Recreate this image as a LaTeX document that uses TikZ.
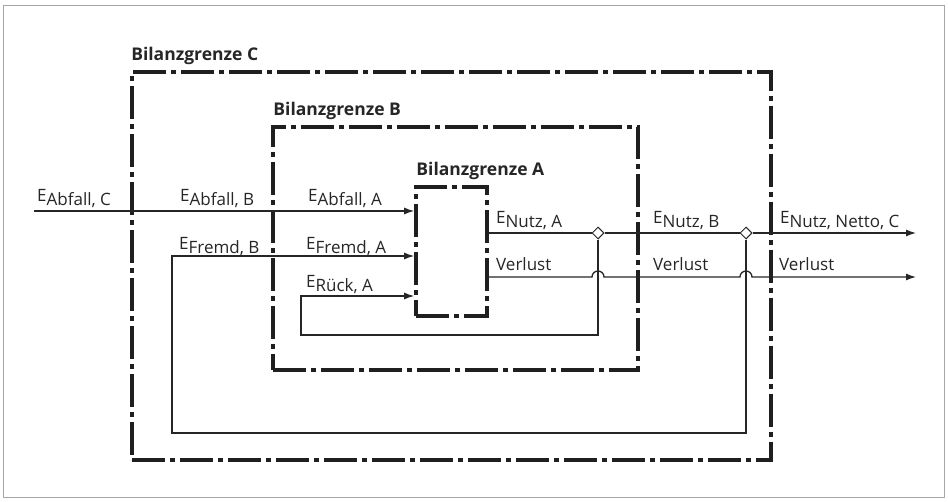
\documentclass[tikz,border=0pt]{standalone}
\usepackage{fontspec}
\setmainfont{Open Sans}
\usetikzlibrary{arrows.meta, calc, positioning, shapes.geometric}

\newcommand{\Eflow}[1]{E\raisebox{-4pt}{#1}}

\begin{document}
\begin{tikzpicture}[
    x=1pt, y=-1pt,
    grenze/.style={draw=black!88, line width=3.8pt, inner sep=0pt,
                   dash pattern=on 33pt off 5pt on 5pt off 5pt},
    flow/.style={draw=black!85, line width=1.3pt},
    arr/.style={flow, -{Latex[length=10pt, width=7pt]}},
    lbl/.style={font=\fontsize{17}{19}\selectfont, text=black!85,
                anchor=base west, inner sep=0pt},
    title/.style={font=\fontsize{17.5}{19}\selectfont\bfseries, text=black!85,
                  inner sep=0pt},
    knot/.style={diamond, draw=black!85, fill=white, line width=1pt,
                 inner sep=0pt, minimum size=12pt},
]
\useasboundingbox (0,0) rectangle (948,501);
\draw[black!35, line width=1pt] (3.5,5.5) rectangle (944.5,497.5);

% Bilanzgrenzen
\node[grenze, minimum width=639pt, minimum height=388pt] (C) at (451.5,266) {};
\node[grenze, line width=3.6pt, minimum width=365pt, minimum height=243pt] (B) at (455.5,248.5) {};
\node[grenze, line width=3.6pt, minimum width=71pt, minimum height=129pt] (A) at (451.5,251.5) {};
\node[title, above right=5pt and 1pt of C.north west] (tC) {Bilanzgrenze C};
\node[title, above right=5pt and 2pt of B.north west] (tB) {Bilanzgrenze B};
\node[title, above right=5pt and 2pt of A.north west] (tA) {Bilanzgrenze A};

% Knoten und Endpunkte
\node[knot] (jA) at (598,233) {};
\node[knot] (jB) at (746,233) {};
\coordinate (inAbf) at (34,211);
\coordinate (fremd) at (172,256);
\coordinate (fremdLow) at (172,433);
\coordinate (rueck) at (301,296);
\coordinate (rueckLow) at (301,335);
\coordinate (outN) at (916,233);
\coordinate (outV) at (916,277);
\coordinate (hopA) at ($(jA |- outV)+(-6,0)$);
\coordinate (hopB) at ($(jB |- outV)+(-6,0)$);

% Energiefluesse
\draw[arr] (inAbf) -- (inAbf -| A.west);
\draw[arr] (A.east |- outN) -- (jA) -- (jB) -- (outN);
\draw[arr] (A.east |- outV) -- (hopA) arc[start angle=180, end angle=0, radius=6pt]
           -- (hopB) arc[start angle=180, end angle=0, radius=6pt] -- (outV);
\draw[arr] (jA) |- (rueckLow) -- (rueck) -- (rueck -| A.west);
\draw[arr] (jB) |- (fremdLow) -- (fremd) -- (fremd -| A.west);

% Beschriftungen
\node[lbl] (lAbfC) at (37,201) {\Eflow{Abfall, C}};
\node[lbl] (lAbfB) at (180,201) {\Eflow{Abfall, B}};
\node[lbl] (lAbfA) at (308,201) {\Eflow{Abfall, A}};
\node[lbl] (lFrB) at (179,249) {\Eflow{Fremd, B}};
\node[lbl] (lFrA) at (306,249) {\Eflow{Fremd, A}};
\node[lbl] (lRkA) at (306,287) {\Eflow{Rück, A}};
\node[lbl] (lNuA) at (496,223) {\Eflow{Nutz, A}};
\node[lbl] (lNuB) at (653,223) {\Eflow{Nutz, B}};
\node[lbl] (lNuC) at (780,223) {\Eflow{Nutz, Netto, C}};
\node[lbl] (lVA) at (496,270) {Verlust};
\node[lbl] (lVB) at (653,270) {Verlust};
\node[lbl] (lVC) at (779,270) {Verlust};
\end{tikzpicture}
\end{document}
